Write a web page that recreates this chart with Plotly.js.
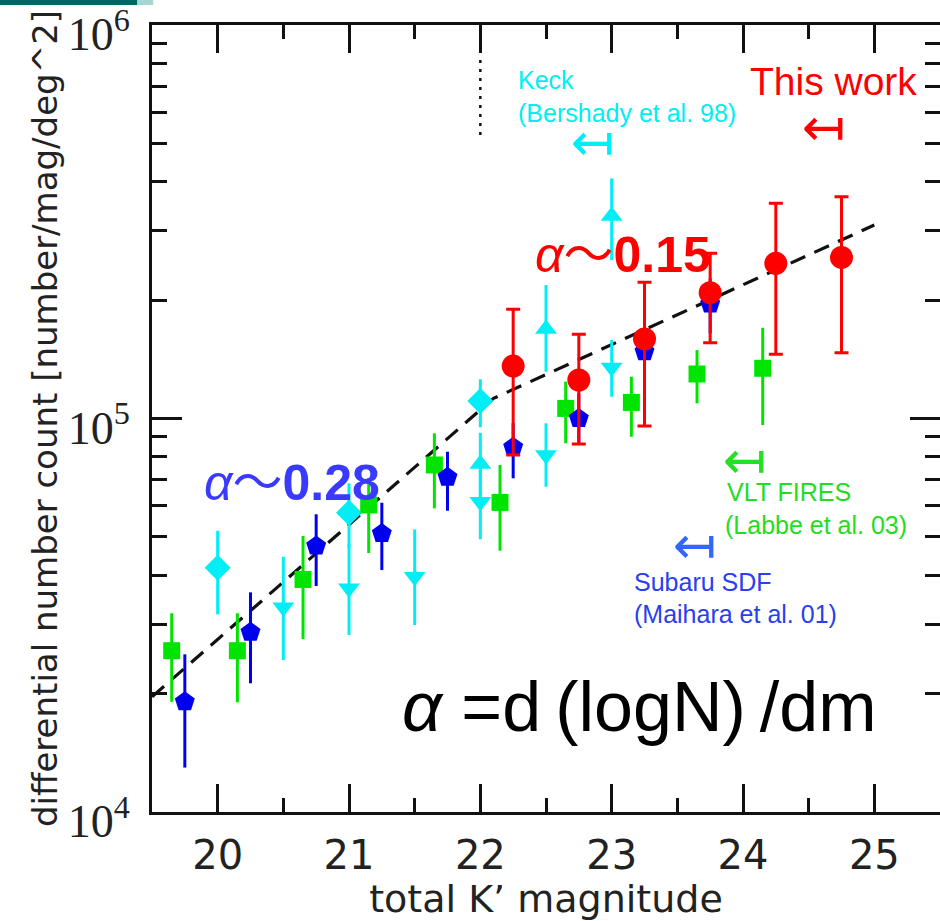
<!DOCTYPE html>
<html>
<head>
<meta charset="utf-8">
<script src="https://cdn.plot.ly/plotly-3.0.1.min.js"></script>
<style>html,body{margin:0;padding:0;background:#fff;}#chart{width:940px;height:921px;}</style>
</head>
<body>
<div id="chart"></div>
<script>
// ---- data ----
// VLT FIRES (Labbe et al. 03) - green squares
const vltX  = [19.65, 20.15, 20.65, 21.15, 21.65, 22.15, 22.65, 23.15, 23.65, 24.15];
const vltY  = [25700, 25700, 39000, 60300, 76200, 61200, 106100, 109900, 129800, 134200];
const vltHi = [32000, 32000, 50300, 70600, 91700, 76200, 124100, 127700, 149300, 170100];
const vltLo = [19060, 19000, 27500, 45500, 59100, 46150, 86500, 89900, 109300, 96300];

// Subaru SDF (Maihara et al. 01) - blue pentagons
const sdfX  = [19.75, 20.25, 20.75, 21.25, 21.75, 22.25, 22.75, 23.25, 23.75];
const sdfY  = [19060, 28630, 47430, 51060, 70900, 84500, 100000, 147900, 195400];
const sdfHi = [25160, 36160, 57100, 61100, 82350, 97300, 115900, 168000, 227000];
const sdfLo = [12970, 21240, 37530, 41200, 58300, 70500, 87000, 130000, 164700];

// Keck (Bershady et al. 98) - cyan diamonds
const keckDX  = [20.0, 21.0, 22.0];
const keckDY  = [41770, 57620, 110800];
const keckDHi = [51860, 68440, 125800];
const keckDLo = [31790, 47000, 95000];

// Keck - cyan downward triangles
const keckTdX  = [20.5, 21.0, 21.5, 22.0, 22.5, 23.0];
const keckTdY  = [33130, 37030, 39630, 61460, 80760, 134900];
const keckTdHi = [44550, 48000, 52270, 74000, 97250, 158300];
const keckTdLo = [24340, 28180, 29870, 49320, 67080, 113600];

// Keck - cyan upward triangles
const keckTuX  = [22.0, 22.5, 23.0];
const keckTuY  = [76600, 168800, 327100];
const keckTuHi = [92000, 218400, 407700];
const keckTuLo = [62000, 131500, 252800];

// This work - red circles
const thisX  = [22.25, 22.75, 23.25, 23.75, 24.25, 24.75];
const thisY  = [135950, 125300, 159300, 208800, 248000, 256800];
const thisHi = [189500, 163700, 221900, 262900, 352300, 366100];
const thisLo = [80760, 86100, 95700, 155900, 145600, 147000];

// broken power-law fit (dashed)
const fitX = [19.5, 22.1, 25.0];
const fitY = [19630, 112500, 310300];

// dotted limit marker
const limX = [22.0, 22.0];
const limY = [815000, 510400];

// axis ticks
const xTickVals = [20, 21, 22, 23, 24, 25];
const yTickVals = [1e4, 1e5, 1e6];
const yTickText = ['10<sup>4</sup>', '10<sup>5</sup>', '10<sup>6</sup>'];
const yMinorVals = [2e4,3e4,4e4,5e4,6e4,7e4,8e4,9e4,2e5,3e5,4e5,5e5,6e5,7e5,8e5,9e5];

// ---- styles ----
const GREEN = '#00e400', BLUE = '#0000ee', CYAN = '#00eef5', RED = '#ff0000';

function diff(a, b) { return a.map((v, i) => v - b[i]); }
function errs(y, hi, lo, color, capw) {
  return {type: 'data', symmetric: false, array: diff(hi, y), arrayminus: diff(y, lo),
          color: color, thickness: 3, width: capw};
}
function series(x, y, hi, lo, color, symbol, size, capw) {
  return {x: x, y: y, type: 'scatter', mode: 'markers',
          marker: {color: color, symbol: symbol, size: size, line: {width: 0}},
          error_y: errs(y, hi, lo, color, capw), hoverinfo: 'x+y'};
}

const traces = [
  {x: fitX, y: fitY, type: 'scatter', mode: 'lines', line: {color: '#111', width: 3.2, dash: '16px,10px'}},
  {x: limX, y: limY, type: 'scatter', mode: 'lines', line: {color: '#111', width: 2.5, dash: '3px,6px'}},
  series(keckDX, keckDY, keckDHi, keckDLo, CYAN, 'diamond', 20, 0),
  series(keckTdX, keckTdY, keckTdHi, keckTdLo, CYAN, 'triangle-down', 19, 0),
  series(keckTuX, keckTuY, keckTuHi, keckTuLo, CYAN, 'triangle-up', 19, 0),
  series(vltX, vltY, vltHi, vltLo, GREEN, 'square', 17, 0),
  series(sdfX, sdfY, sdfHi, sdfLo, BLUE, 'pentagon', 21, 0),
  series(thisX, thisY, thisHi, thisLo, RED, 'circle', 23, 7)
];

const labFont = 'Liberation Sans, Arial, Noto Sans CJK JP, sans-serif';
function note(text, x, y, color, size, anchor, family) {
  return {text: text, xref: 'paper', yref: 'paper', x: x, y: y,
    xanchor: anchor || 'left', yanchor: 'middle', showarrow: false,
    font: {family: family || labFont, size: size, color: color}};
}
const arrowFont = 'DejaVu Sans, sans-serif';
function arrowNote(x, y, color) {
  return {text: '↤', xref: 'paper', yref: 'paper', x: x, y: y, xanchor: 'center', yanchor: 'middle',
          height: 34, valign: 'middle',
          showarrow: false, font: {family: arrowFont, size: 52, color: color}};
}

const annotations = [
  note('Keck', 0.462, 0.930, CYAN, 25),
  note('(Bershady et al. 98)', 0.462, 0.888, CYAN, 25),
  arrowNote(0.5596, 0.8513, CYAN),
  note('This work', 0.7563, 0.9276, RED, 39),
  arrowNote(0.8528, 0.8704, RED),
  note('<i>α</i>～<b>0.15</b>', 0.4835, 0.7078, RED, 50),
  note('<i>α</i>～<b>0.28</b>', 0.0635, 0.418, '#3a3aff', 50),
  arrowNote(0.7525, 0.4473, '#22e022'),
  note('VLT FIRES', 0.7272, 0.4066, '#22dd22', 25),
  note('(Labbe et al. 03)', 0.7246, 0.3647, '#22dd22', 25),
  arrowNote(0.6891, 0.3393, '#3366ff'),
  note('Subaru SDF', 0.6091, 0.2922, '#2840ee', 25),
  note('(Maihara et al. 01)', 0.6091, 0.2516, '#2840ee', 25),
  note('<i>α</i> =d\u2009(logN)\u2009/dm', 0.3147, 0.1334, '#000', 70)
];

const layout = {
  width: 940, height: 921,
  margin: {l: 152, r: 0, t: 25, b: 109, pad: 0},
  paper_bgcolor: '#fff', plot_bgcolor: '#fff',
  showlegend: false,
  xaxis: {
    range: [19.5, 25.5], tickmode: 'array', tickvals: xTickVals,
    ticks: 'inside', ticklen: 28, tickwidth: 3, tickcolor: '#111',
    showline: true, linecolor: '#111', linewidth: 3, mirror: 'ticks',
    showgrid: false, zeroline: false,
    minor: {ticks: 'inside', ticklen: 14, tickwidth: 3, tickcolor: '#111', dtick: 0.5, tick0: 19.5, showgrid: false},
    tickfont: {family: 'DejaVu Sans, sans-serif', size: 40, color: '#222'},
    ticklabelstandoff: 6, ticklabeloverflow: 'allow',
    title: {text: 'total K’ magnitude', font: {family: 'DejaVu Sans, sans-serif', size: 38, color: '#222'}, standoff: 4}
  },
  yaxis: {
    type: 'log', range: [4, 6.0002], tickmode: 'array', tickvals: yTickVals, ticktext: yTickText,
    ticks: 'inside', ticklen: 30, tickwidth: 3, tickcolor: '#111',
    showline: true, linecolor: '#111', linewidth: 3, mirror: 'ticks',
    showgrid: false, zeroline: false,
    minor: {ticks: 'inside', ticklen: 15, tickwidth: 3, tickcolor: '#111', tickmode: 'array', tickvals: yMinorVals, showgrid: false},
    tickfont: {family: 'Liberation Serif, DejaVu Serif, serif', size: 46, color: '#222'},
    ticklabelstandoff: 10, ticklabeloverflow: 'allow', ticklabelshift: 9,
    title: {text: 'differential number count [number/mag/deg^2]', font: {family: 'DejaVu Sans, sans-serif', size: 34, color: '#222'}, standoff: 0}
  },
  annotations: annotations,
  shapes: [
    {type: 'rect', xref: 'paper', yref: 'paper', x0: -0.193, x1: 0.0015, y0: 1.0254, y1: 1.04, fillcolor: '#a8d4d2', line: {width: 0}, layer: 'above'},
    {type: 'rect', xref: 'paper', yref: 'paper', x0: -0.193, x1: -0.019, y0: 1.0254, y1: 1.04, fillcolor: '#006663', line: {width: 0}, layer: 'above'}
  ]
};

Plotly.newPlot('chart', traces, layout, {displayModeBar: false, staticPlot: true});
</script>
</body>
</html>
